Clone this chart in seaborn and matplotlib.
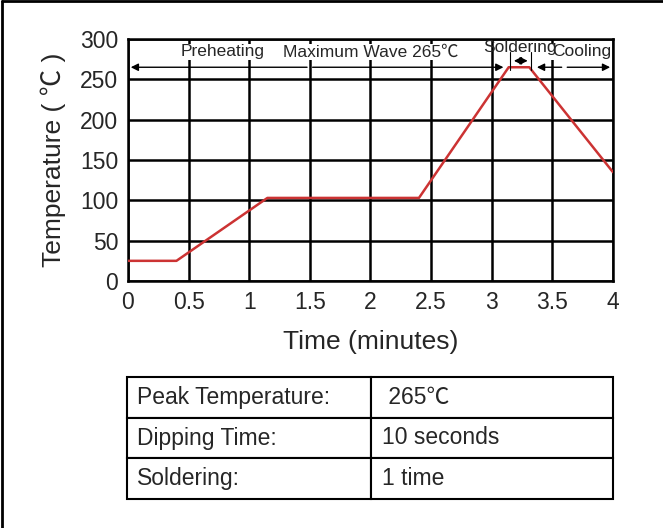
import pandas as pd
import matplotlib.pyplot as plt
import seaborn as sns
from matplotlib.lines import Line2D

# reflow profile
time_min = [0, 0.40, 1.15, 2.40, 3.14, 3.31, 4.0]
temp_c = [25, 25, 103, 103, 265, 265, 135]

x_ticks = [0, 0.5, 1, 1.5, 2, 2.5, 3, 3.5, 4]
y_ticks = [0, 50, 100, 150, 200, 250, 300]

row_labels = ["Peak Temperature:", "Dipping Time:", "Soldering:"]
row_values = [" 265\u2103", "10 seconds", "1 time"]

sns.set_style("white")
plt.rcParams['font.family'] = ['Liberation Sans', 'Noto Sans CJK SC', 'DejaVu Sans']

df = pd.DataFrame({"Time": time_min, "Temp": temp_c})

fig = plt.figure(figsize=(6.63, 5.28), dpi=100)
ax = fig.add_axes([0.193, 0.4678, 0.7315, 0.4583])

sns.lineplot(x="Time", y="Temp", data=df, ax=ax, color="#cc3333", lw=1.8, zorder=5)

ax.set_xlim(0, 4)
ax.set_ylim(0, 300)
ax.set_xticks(x_ticks)
ax.set_xticklabels([f"{t:g}" for t in x_ticks])
ax.set_yticks(y_ticks)
ax.grid(True, color="black", lw=1.8)
ax.tick_params(length=0, labelsize=16.5, pad=7)
for s in ax.spines.values():
    s.set_color("black")
    s.set_linewidth(1.8)
ax.set_xlabel("Time (minutes)", fontsize=19, labelpad=12)
ax.set_ylabel("Temperature ( \u2103 )", fontsize=19, labelpad=10)

# stage arrows
arr = dict(arrowstyle="-|>", color="black", lw=1.0, mutation_scale=11)
ax.annotate("", xy=(0.0, 265), xytext=(1.5, 265), arrowprops=arr, annotation_clip=False)
ax.annotate("", xy=(3.12, 265), xytext=(1.5, 265), arrowprops=arr, annotation_clip=False)
ax.annotate("", xy=(3.16, 273), xytext=(3.24, 273), arrowprops=arr, annotation_clip=False)
ax.annotate("", xy=(3.32, 273), xytext=(3.24, 273), arrowprops=arr, annotation_clip=False)
ax.annotate("", xy=(3.35, 265), xytext=(3.6, 265), arrowprops=arr, annotation_clip=False)
ax.annotate("", xy=(4.0, 265), xytext=(3.6, 265), arrowprops=arr, annotation_clip=False)
ax.plot([3.155, 3.155], [262, 284], color="black", lw=0.8, zorder=6)
ax.plot([3.325, 3.325], [262, 284], color="black", lw=0.8, zorder=6)

lab = dict(fontsize=12.5, ha="center", va="center", zorder=7,
           bbox=dict(facecolor="white", edgecolor="none", pad=0.5))
ax.text(0.78, 284, "Preheating", **lab)
ax.text(2.0, 284, "Maximum Wave 265\u2103", **lab)
ax.text(3.74, 284, "Cooling", **lab)
ax.text(3.23, 290, "Soldering", fontsize=12.5, ha="center", va="center", zorder=9)

# parameter table
tax = fig.add_axes([127 / 663, 1 - 499 / 528, 486 / 663, 122 / 528])
tax.axis("off")
tbl = tax.table(cellText=[[a, b] for a, b in zip(row_labels, row_values)],
                colWidths=[0.502, 0.498], cellLoc="left", bbox=[0, 0, 1, 1])
tbl.auto_set_font_size(False)
tbl.set_fontsize(16.5)
for (r, c), cell in tbl.get_celld().items():
    cell.set_linewidth(1.5)
    cell.set_edgecolor("black")
    cell.PAD = 0.04 if c == 0 else 0.045

# figure border (top and left)
fig.add_artist(Line2D([0.003, 0.003], [0, 0.998], transform=fig.transFigure, color="black", lw=2))
fig.add_artist(Line2D([0.003, 1], [0.998, 0.998], transform=fig.transFigure, color="black", lw=2))

fig.savefig("out.png", dpi=100)
